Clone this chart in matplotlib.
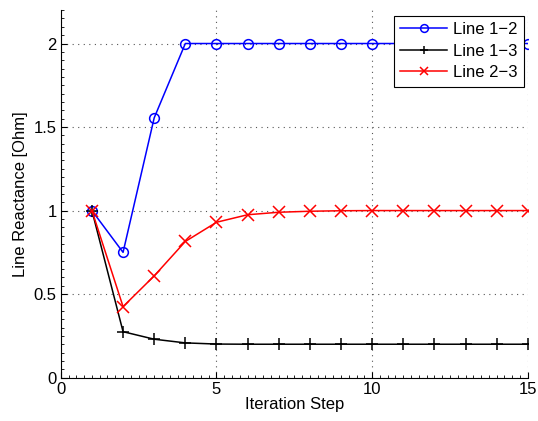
import matplotlib
matplotlib.use('Agg')
import matplotlib.pyplot as plt
from matplotlib.ticker import MultipleLocator

# data
steps = list(range(1, 16))
line_12 = [1, 0.75, 1.555, 2, 2, 2, 2, 2, 2, 2, 2, 2, 2, 2, 2]
line_13 = [1, 0.275, 0.23, 0.208, 0.201, 0.2, 0.2, 0.2, 0.2, 0.2, 0.2, 0.2, 0.2, 0.2, 0.2]
line_23 = [1, 0.425, 0.609, 0.815, 0.93, 0.975, 0.99, 0.996, 0.999, 1, 1, 1, 1, 1, 1]

plt.rcParams['font.family'] = ['Liberation Sans', 'DejaVu Sans']

fig = plt.figure(figsize=(5.38, 4.21), dpi=100)
ax = fig.add_axes([0.113, 0.103, 0.868, 0.873])

ax.plot(steps, line_12, '-o', color='blue', mfc='none', ms=7, mew=1.1, lw=1.1, label='Line 1\u22122')
ax.plot(steps, line_13, '-+', color='black', ms=8, mew=1.1, lw=1.1, label='Line 1\u22123')
ax.plot(steps, line_23, '-x', color='red', ms=8, mew=1.1, lw=1.1, label='Line 2\u22123')

ax.set_xlim(0, 15)
ax.set_ylim(0, 2.2)
ax.set_xticks([0, 5, 10, 15])
ax.set_yticks([0, 0.5, 1, 1.5, 2])
ax.set_yticklabels(['0', '0.5', '1', '1.5', '2'])
ax.xaxis.set_minor_locator(MultipleLocator(0.25))
ax.yaxis.set_minor_locator(MultipleLocator(0.05))
ax.tick_params(which='both', direction='in', labelsize=12)
ax.tick_params(which='major', length=4, pad=3)
ax.tick_params(which='minor', length=2)
ax.spines['top'].set_visible(False)
ax.spines['right'].set_visible(False)
ax.grid(True, which='major', linestyle=(0, (1, 4)), color='#555555', lw=0.8)

ax.set_xlabel('Iteration Step', fontsize=12, labelpad=0)
ax.set_ylabel('Line Reactance [Ohm]', fontsize=12, labelpad=4)

leg = ax.legend(loc='upper right', bbox_to_anchor=(0.992, 0.985), fontsize=12, fancybox=False,
                framealpha=1, edgecolor='black', borderpad=0.4, handlelength=2.8,
                labelspacing=0.38, handletextpad=0.35, borderaxespad=0.0, markerscale=0.8)
leg.get_frame().set_linewidth(0.8)

fig.savefig('out.png', dpi=100)
